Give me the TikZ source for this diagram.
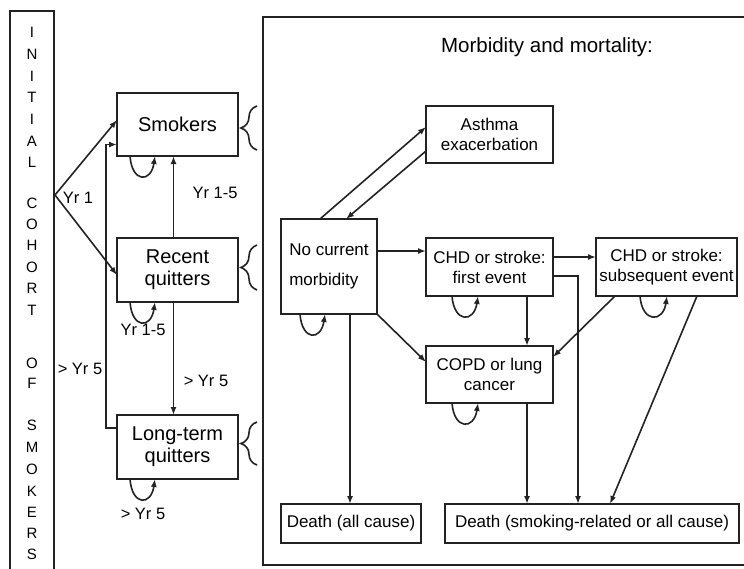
\documentclass[tikz,border=0pt]{standalone}
\usepackage{fontspec}
\setmainfont{Liberation Sans}
\usetikzlibrary{arrows.meta, positioning, calc, decorations.pathreplacing}
\definecolor{LineGray}{RGB}{35,35,35}
\newcommand{\selfloop}[3]{%
  \draw[arr] ([xshift=#2pt]#1.south) .. controls +(2,27) and +(-4,27) .. ([xshift=#3pt]#1.south);}

\begin{document}
\begin{tikzpicture}[x=1pt, y=-1pt,
  cohort/.style={draw=LineGray, line width=1.7pt, inner sep=0pt, outer sep=0pt,
                 align=center, font=\fontsize{20}{22}\selectfont},
  event/.style={cohort, font=\fontsize{17}{20}\selectfont},
  arr/.style={-{Latex[length=8pt,width=6pt]}, draw=LineGray, line width=1.6pt},
  lbl/.style={font=\fontsize{16.5}{18}\selectfont, inner sep=0pt},
  letter/.style={font=\fontsize{15}{15}\selectfont, inner sep=0pt},
  brc/.style={draw=LineGray, line width=1.6pt, decorate,
              decoration={brace, amplitude=16pt}},
]
\useasboundingbox (0,0) rectangle (744,568);
\clip (0,0) rectangle (744,568);

% frames
\draw[draw=LineGray, line width=1.7pt] (10,11) rectangle (54,590);
\draw[draw=LineGray, line width=1.7pt] (263,17) rectangle (770,565);
\foreach \ch/\yy in {I/32, N/54, I/76, T/97, I/119, A/141, L/162,
                     C/203, O/224, H/245, O/267, R/288, T/310,
                     O/363, F/383, S/425, M/447, O/469, K/491, E/512, R/533, S/554}
  \node[letter] at (32,\yy) {\ch};
\node[font=\fontsize{20.5}{22}\selectfont] (title) at (547,47) {Morbidity and mortality:};

% smoking states
\node[cohort, minimum width=121pt, minimum height=63pt] (smk) at (177.5,124.5) {Smokers};
\node[cohort, minimum width=121pt, minimum height=64pt] (rq) at (177.5,270) {Recent\\quitters};
\node[cohort, minimum width=121pt, minimum height=64pt] (ltq) at (177.5,447) {Long-term\\quitters};

% health states
\node[event, minimum width=127pt, minimum height=57pt] (asth) at (489.5,134.5) {Asthma\\exacerbation};
\node[event, minimum width=96pt, minimum height=95pt, align=left] (ncm) at (329,266.5) {No current\\[10pt]morbidity};
\node[event, minimum width=127pt, minimum height=58pt] (chd1) at (489.5,267) {CHD or stroke:\\first event};
\node[event, minimum width=141pt, minimum height=58pt] (chd2) at (666.5,267) {CHD or stroke:\\subsequent event};
\node[event, minimum width=127pt, minimum height=57pt] (copd) at (489.5,374.5) {COPD or lung\\cancer};
\node[event, minimum width=140pt, minimum height=39pt] (dall) at (351,523.5) {Death (all cause)};
\node[event, minimum width=294pt, minimum height=39pt] (dsmk) at (592,523.5) {Death (smoking-related or all cause)};

% braces
\draw[brc] (257,150) -- (257,106);
\draw[brc] (257,290) -- (257,245);
\draw[brc] (257,465) -- (257,422);

% transitions between smoking states
\coordinate (fork) at (55,195);
\draw[arr] (fork) -- ([yshift=4.5pt]smk.west);
\draw[arr] (fork) -- ([yshift=-5pt]rq.west);
\node[lbl] at (78,198) {Yr 1};
\draw[arr] ([yshift=19pt]ltq.west) -- ++(-11,0) |- ([yshift=-20pt]smk.west);
\node[lbl] at (80,369) {> Yr 5};
\draw[arr] ([xshift=-4pt]rq.north) -- ([xshift=-4pt]smk.south);
\node[lbl] at (215,193) {Yr 1-5};
\draw[arr] ([xshift=-4pt]rq.south) -- ([xshift=-4pt]ltq.north);
\node[lbl] at (206,381) {> Yr 5};
\selfloop{smk}{-47.5}{-22.5}
\selfloop{rq}{-47.5}{-22.5}
\node[lbl] at (143,330) {Yr 1-5};
\selfloop{ltq}{-47.5}{-22.5}
\node[lbl] at (143,514) {> Yr 5};

% transitions between health states
\draw[arr] ([xshift=-9pt]ncm.north) -- ([yshift=7.5pt]asth.west);
\draw[arr] ([yshift=-16.5pt]asth.west) -- ([xshift=17pt]ncm.north);
\draw[arr] ([yshift=15.5pt]ncm.east) -- ([yshift=16pt]chd1.west);
\draw[arr] (ncm.south east) -- ([yshift=12.5pt]copd.west);
\draw[arr] ([xshift=21pt]ncm.south) -- ([xshift=21pt]ncm.south |- dall.north);
\draw[arr, line width=2.2pt] ([yshift=10pt]chd1.east) -- ([yshift=10pt]chd2.west);
\draw[arr] ([xshift=37.5pt]chd1.south) -- ([xshift=37.5pt]copd.north);
\draw[arr] ([yshift=-9pt]chd1.east) -| ([xshift=-14pt]dsmk.north);
\draw[arr] ([xshift=-51.5pt]chd2.south) -- ([yshift=17.5pt]copd.east);
\draw[arr] ([xshift=30.5pt]chd2.south) -- ([xshift=18pt]dsmk.north);
\draw[arr] ([xshift=37.5pt]copd.south) -- ([xshift=-65pt]dsmk.north);
\selfloop{ncm}{-29}{-4}
\selfloop{chd1}{-37.5}{-11.5}
\selfloop{chd2}{-26.5}{0.5}
\selfloop{copd}{-37.5}{-11.5}
\end{tikzpicture}
\end{document}
